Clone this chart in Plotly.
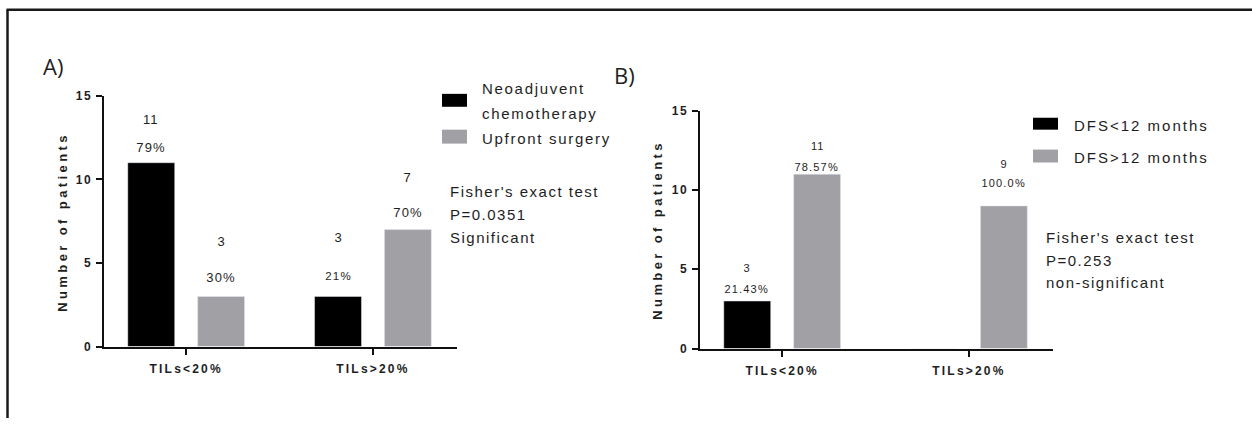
import json
import plotly.graph_objects as go

W, H = 1252, 425

# ---------------- data ----------------
categories = ["TILs<20%", "TILs>20%"]

a_series = ["Neoadjuvent chemotherapy", "Upfront surgery"]
a_legend_lines = [["Neoadjuvent", "chemotherapy"], ["Upfront surgery"]]
a_neo = [11, 3]
a_up = [3, 7]
a_neo_pct = ["79%", "21%"]
a_up_pct = ["30%", "70%"]
a_stats = ["Fisher's exact test", "P=0.0351", "Significant"]

b_series = ["DFS<12 months", "DFS>12 months"]
b_short = [3, 0]
b_long = [11, 9]
b_short_pct = ["21.43%", ""]
b_long_pct = ["78.57%", "100.0%"]
b_stats = ["Fisher's exact test", "P=0.253", "non-significant"]

y_ticks = [0, 5, 10, 15]
y_title = "Number of patients"
panel_labels = ["A)", "B)"]

# ---------------- style ----------------
BLACK = "#000000"
GREY = "#A1A1A5"
TXT = "#1e1e1e"
FAM = "Liberation Sans, Arial, sans-serif"
BARGAP = 0.252
BARGROUPGAP = 0.328
OFF = (1 - BARGAP) / 4  # centre offset of each bar in a group

# vertical calibration of the photographed page
SY, OY = 0.972, 5.7


def px(x):
    return x / W


def py(y):
    return 1 - ((y - OY) / SY) / H


def sh(v):
    return v / SY


fig = go.Figure()
fig.add_trace(go.Bar(x=categories, y=a_neo, name=a_series[0], marker_color=BLACK,
                     xaxis="x", yaxis="y", showlegend=False))
fig.add_trace(go.Bar(x=categories, y=a_up, name=a_series[1], marker_color=GREY,
                     xaxis="x", yaxis="y", showlegend=False))
fig.add_trace(go.Bar(x=categories, y=b_short, name=b_series[0], marker_color=BLACK,
                     xaxis="x2", yaxis="y2", showlegend=False))
fig.add_trace(go.Bar(x=categories, y=b_long, name=b_series[1], marker_color=GREY,
                     xaxis="x2", yaxis="y2", showlegend=False))

annotations = []
spacings = []


def add_ann(spacing, **kw):
    annotations.append(dict(showarrow=False, **kw))
    spacings.append(spacing)


label_specs = [
    ("x", "y", a_neo, a_neo_pct, -OFF, [42, 57], [15, 20], [13, 13], [13, 11.5]),
    ("x", "y", a_up, a_up_pct, OFF, [53, 51], [18, 17], [13, 13], [13, 13]),
    ("x2", "y2", b_short, b_short_pct, -OFF, [32, 0], [12, 0], [11, 11], [11, 11]),
    ("x2", "y2", b_long, b_long_pct, OFF, [27, 41], [7, 22], [11, 11], [11, 11]),
]
for xr, yr, vals, pcts, off, cs, ps, cf, pf in label_specs:
    for i, (v, p) in enumerate(zip(vals, pcts)):
        if not p:
            continue
        add_ann(1.0, x=i + off, y=v, xref=xr, yref=yr, text=str(v), yshift=sh(cs[i]),
                yanchor="middle", xanchor="center", font=dict(family=FAM, size=cf[i], color=TXT))
        add_ann(1.2, x=i + off, y=v, xref=xr, yref=yr, text=p, yshift=sh(ps[i]),
                yanchor="middle", xanchor="center", font=dict(family=FAM, size=pf[i], color=TXT))

for xc, yc in [(62, 222), (657, 230)]:
    add_ann(3.4, x=px(xc), y=py(yc), xref="paper", yref="paper", text=y_title,
            textangle=-90, xanchor="center", yanchor="middle",
            font=dict(family=FAM, size=13, color=TXT, weight="bold"))

for lab, (xl, yc) in zip(panel_labels, [(41, 65), (612, 74)]):
    add_ann(0.0, x=px(xl), y=py(yc), xref="paper", yref="paper", text=lab,
            xanchor="left", yanchor="middle", align="left",
            font=dict(family="Open Sans, Liberation Sans, sans-serif", size=22, color=TXT))

for lines, xl, ys in [(a_stats, 448, [191, 214, 237]), (b_stats, 1044, [237, 260, 283])]:
    for line, yc in zip(lines, ys):
        add_ann(1.5, x=px(xl), y=py(yc), xref="paper", yref="paper", text=line,
                xanchor="left", yanchor="middle", align="left",
                font=dict(family=FAM, size=15, color=TXT))

shapes = []
legend_a = [(BLACK, 93, 106, a_legend_lines[0], [88, 113]),
            (GREY, 129, 143, a_legend_lines[1], [138])]
legend_b = [(BLACK, 117, 129, [b_series[0]], [125]),
            (GREY, 149, 162, [b_series[1]], [157])]
for items, sx0, sx1, tx, sp in [(legend_a, 442, 467, 480, 1.7), (legend_b, 1033, 1058, 1072, 2.0)]:
    for col, y0, y1, lines, ys in items:
        shapes.append(dict(type="rect", xref="paper", yref="paper", x0=px(sx0), x1=px(sx1),
                           y0=py(y1), y1=py(y0), fillcolor=col, line=dict(width=0)))
        for line, yc in zip(lines, ys):
            add_ann(sp, x=px(tx), y=py(yc), xref="paper", yref="paper", text=line,
                    xanchor="left", yanchor="middle", align="left",
                    font=dict(family=FAM, size=15, color=TXT))

# outer frame (top and left edges)
shapes.append(dict(type="line", xref="paper", yref="paper", x0=px(6.5), x1=1.0,
                   y0=py(8.5), y1=py(8.5), line=dict(color="#1a1a1a", width=2.5)))
shapes.append(dict(type="line", xref="paper", yref="paper", x0=px(7.5), x1=px(7.5),
                   y0=py(8.5), y1=0.0, line=dict(color="#1a1a1a", width=2.5)))

xaxis_common = dict(type="category", range=[-0.44, 1.45], showline=True, linewidth=2,
                    linecolor="#111", ticks="outside", ticklen=6, tickwidth=2, tickcolor="#111",
                    showgrid=False, zeroline=False, ticklabelstandoff=4,
                    tickfont=dict(family=FAM, size=12, color=TXT, weight="bold"))
yaxis_common = dict(range=[0, 15], tickvals=y_ticks, showline=True, linewidth=2,
                    linecolor="#111", ticks="outside", ticklen=6, tickwidth=2, tickcolor="#111",
                    showgrid=False, zeroline=False, ticklabelstandoff=1,
                    tickfont=dict(family=FAM, size=12, color=TXT, weight="bold"))

fig.update_layout(
    width=W, height=H,
    margin=dict(l=0, r=0, t=0, b=0),
    paper_bgcolor="white", plot_bgcolor="white",
    barmode="group", bargap=BARGAP, bargroupgap=BARGROUPGAP,
    xaxis=dict(domain=[px(104), px(457)], anchor="y", **xaxis_common),
    yaxis=dict(domain=[py(347), py(95)], anchor="x", **yaxis_common),
    xaxis2=dict(domain=[px(700), px(1053)], anchor="y2", **xaxis_common),
    yaxis2=dict(domain=[py(349), py(110)], anchor="x2", **yaxis_common),
    annotations=annotations,
    shapes=shapes,
)

post = """
document.documentElement.style.margin = '0';
document.documentElement.style.padding = '0';
document.documentElement.style.overflow = 'hidden';
document.body.style.margin = '0';
document.body.style.padding = '0';
document.body.style.overflow = 'hidden';
var gd = document.getElementById('{plot_id}');
var sp = SPACINGS;
function setSp(sel, v) {
  gd.querySelectorAll(sel).forEach(function (t) { t.style.letterSpacing = v; });
}
function applySpacing() {
  gd.querySelectorAll('g.annotation').forEach(function (g) {
    var i = +g.getAttribute('data-index');
    var t = g.querySelector('text');
    if (t && sp[i] !== undefined) { t.style.letterSpacing = sp[i] + 'px'; }
  });
  setSp('g.xtick text, g.x2tick text', '2.2px');
  setSp('g.ytick text, g.y2tick text', '1.8px');
}
gd.on('plotly_afterplot', applySpacing);
applySpacing();
""".replace("SPACINGS", json.dumps(spacings))

fig.write_html("out.html", post_script=post, config={"displayModeBar": False})
